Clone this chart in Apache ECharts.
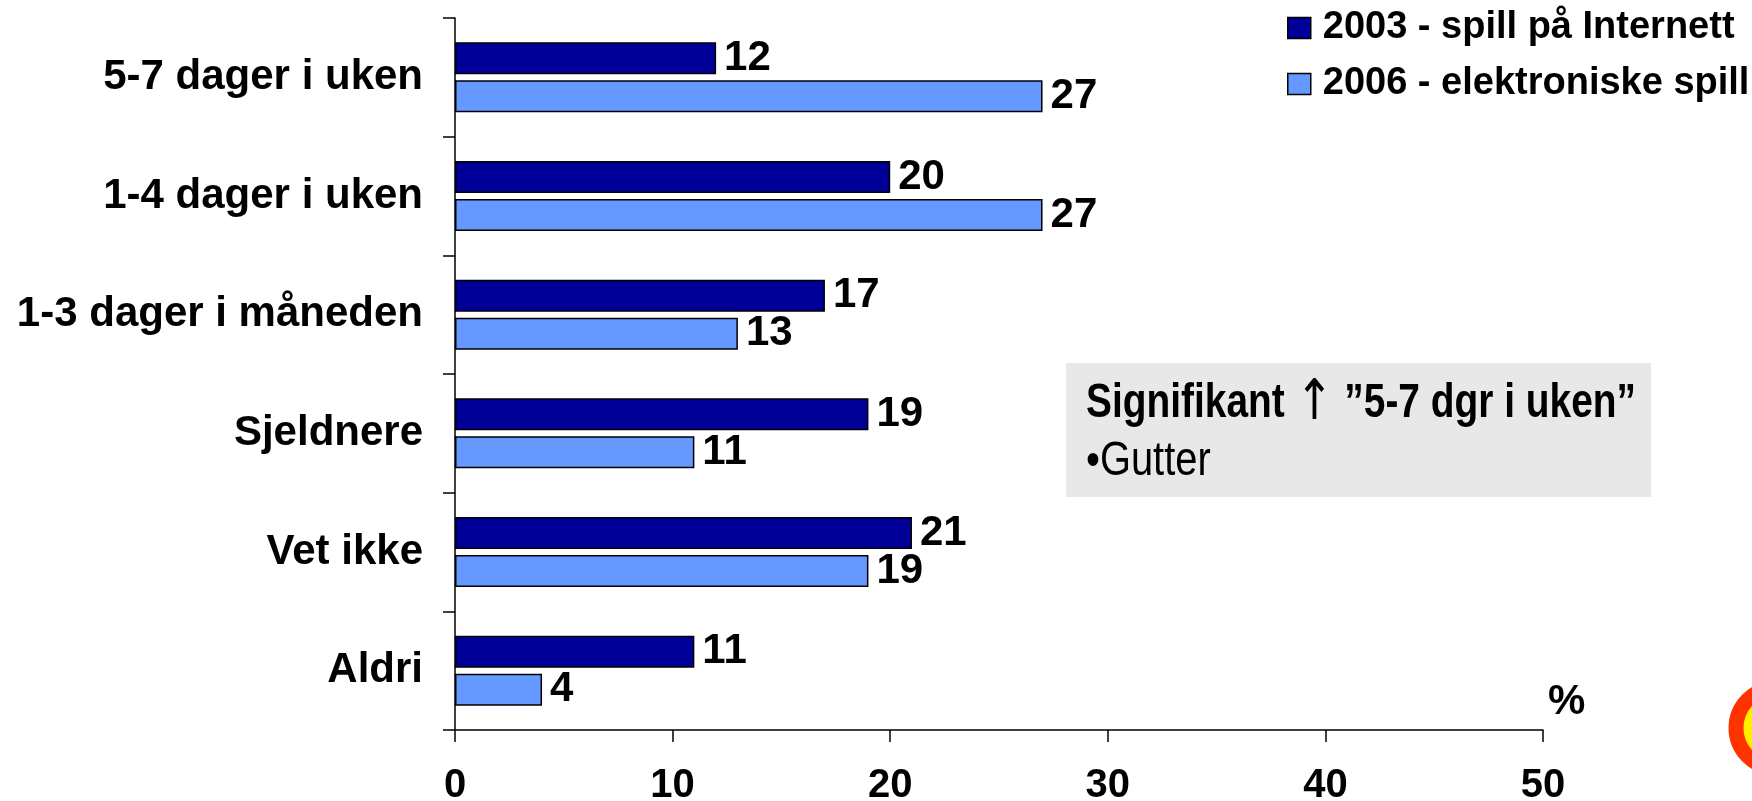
<!DOCTYPE html>
<html>
<head>
<meta charset="utf-8">
<script src="https://cdn.jsdelivr.net/npm/echarts@6/dist/echarts.min.js"></script>
<style>
html,body{margin:0;padding:0;background:#fff;}
#chart{width:1752px;height:801px;}
</style>
</head>
<body>
<div id="chart"></div>
<script>
const categories = ['5-7 dager i uken', '1-4 dager i uken', '1-3 dager i måneden', 'Sjeldnere', 'Vet ikke', 'Aldri'];
const values2003 = [12, 20, 17, 19, 21, 11];
const values2006 = [27, 27, 13, 11, 19, 4];
const seriesNames = ['2003 - spill på Internett', '2006 - elektroniske spill'];
const xTicks = [0, 10, 20, 30, 40, 50];
const noteTitleA = 'Signifikant ';
const noteArrow = '\u2191';
const noteTitleB = ' \u201D5-7 dgr i uken\u201D';
const noteLine = '\u2022Gutter';
const unitLabel = '%';

const FONT = '"Liberation Sans", Arial, sans-serif';
const chart = echarts.init(document.getElementById('chart'), null, {renderer: 'canvas'});

const labelCfg = {
  show: true, position: 'right', distance: 8,
  color: '#000', fontFamily: FONT, fontWeight: 'bold', fontSize: 42
};

chart.setOption({
  backgroundColor: '#fff',
  animation: false,
  grid: {left: 455, top: 18, right: 209, bottom: 71, containLabel: false, outerBoundsMode: 'none'},
  legend: {
    orient: 'vertical', left: 1282, top: 4,
    itemWidth: 23, itemHeight: 21, itemGap: 18,
    icon: 'rect',
    itemStyle: {borderColor: '#000', borderWidth: 1.5},
    textStyle: {color: '#000', fontFamily: FONT, fontWeight: 'bold', fontSize: 38, lineHeight: 35, padding: [0, 0, 0, 7]},
    data: seriesNames
  },
  xAxis: {
    type: 'value', min: xTicks[0], max: xTicks[xTicks.length - 1], interval: xTicks[1] - xTicks[0],
    axisLine: {show: true, lineStyle: {color: '#000', width: 1.5}},
    axisTick: {show: true, length: 12, lineStyle: {color: '#000', width: 1.5}},
    splitLine: {show: false},
    axisLabel: {margin: 36, color: '#000', fontFamily: FONT, fontWeight: 'bold', fontSize: 40}
  },
  yAxis: {
    type: 'category', inverse: true, data: categories,
    axisLine: {show: true, lineStyle: {color: '#000', width: 1.5}},
    axisTick: {show: true, length: 12, lineStyle: {color: '#000', width: 1.5}},
    axisLabel: {margin: 32, color: '#000', fontFamily: FONT, fontWeight: 'bold', fontSize: 42}
  },
  series: [
    {
      name: seriesNames[0], type: 'bar', data: values2003,
      barWidth: 32, barGap: '19%',
      itemStyle: {color: '#000099', borderColor: '#000', borderWidth: 1.5},
      label: labelCfg
    },
    {
      name: seriesNames[1], type: 'bar', data: values2006,
      barWidth: 32, barGap: '19%',
      itemStyle: {color: '#6699ff', borderColor: '#000', borderWidth: 1.5},
      label: labelCfg
    }
  ],
  graphic: [
    {type: 'rect', left: 1066, top: 363, shape: {width: 585, height: 134}, style: {fill: '#e8e8e8'}, z: 1},
    {type: 'text', x: 1086, y: 404, scaleX: 0.81, style: {
      text: '{b|' + noteTitleA + '}{a|' + noteArrow + '}{b|' + noteTitleB + '}',
      fill: '#000', textVerticalAlign: 'middle',
      rich: {
        b: {font: 'bold 48px ' + FONT, fill: '#000'},
        a: {font: '56px "DejaVu Sans", sans-serif', fill: '#000'}
      }
    }, z: 2},
    {type: 'text', x: 1086, y: 462, scaleX: 0.83, style: {text: noteLine, fill: '#000', font: '48px ' + FONT, textVerticalAlign: 'middle'}, z: 2},
    {type: 'text', x: 1548, y: 702, style: {text: unitLabel, fill: '#000', font: 'bold 42px ' + FONT, textVerticalAlign: 'middle'}, z: 2},
    {type: 'circle', shape: {cx: 1776, cy: 728, r: 40}, style: {fill: '#ffee00', stroke: '#ff3300', lineWidth: 15}, z: 2}
  ]
});
</script>
</body>
</html>
